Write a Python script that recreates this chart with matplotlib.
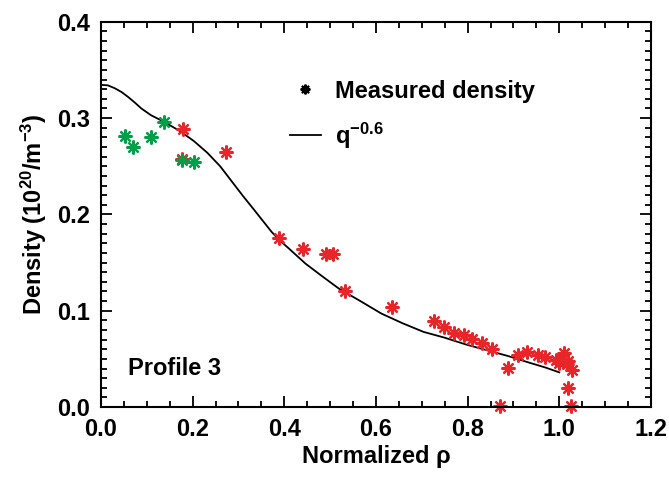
import matplotlib
matplotlib.use("Agg")
import matplotlib.pyplot as plt
from matplotlib.lines import Line2D
from matplotlib.ticker import MultipleLocator, FormatStrFormatter

# -----------------------------
# Dados
# -----------------------------
green_rho = [0.052, 0.070, 0.109, 0.138, 0.176, 0.203]
green_n = [0.281, 0.270, 0.280, 0.296, 0.257, 0.254]

red_rho = [0.178, 0.176, 0.272, 0.388, 0.441, 0.492, 0.506, 0.533, 0.635,
           0.726, 0.748, 0.770, 0.792, 0.810, 0.831, 0.853, 0.871, 0.889,
           0.909, 0.929, 0.953, 0.969, 0.992, 1.000, 1.005, 1.011, 1.016,
           1.020, 1.028, 1.019, 1.025]
red_n = [0.289, 0.258, 0.265, 0.175, 0.164, 0.159, 0.159, 0.121, 0.104,
         0.089, 0.083, 0.077, 0.075, 0.071, 0.066, 0.060, 0.001, 0.041,
         0.054, 0.057, 0.054, 0.052, 0.049, 0.046, 0.050, 0.056, 0.045,
         0.048, 0.038, 0.020, 0.001]

curve_rho = [0.0, 0.015, 0.030, 0.045, 0.059, 0.074, 0.088, 0.109, 0.138,
             0.174, 0.203, 0.232, 0.260, 0.289, 0.310, 0.332, 0.352, 0.372,
             0.390, 0.409, 0.446, 0.482, 0.519, 0.566, 0.612, 0.658, 0.704,
             0.750, 0.796, 0.842, 0.888, 0.935, 0.970, 1.0]
curve_n = [0.3345, 0.334, 0.331, 0.327, 0.322, 0.316, 0.310, 0.303, 0.296,
           0.286, 0.276, 0.264, 0.250, 0.232, 0.219, 0.206, 0.194, 0.182,
           0.173, 0.165, 0.149, 0.136, 0.123, 0.110, 0.097, 0.087, 0.078,
           0.072, 0.065, 0.059, 0.053, 0.046, 0.041, 0.036]

plt.rcParams["font.family"] = ["Liberation Sans Narrow", "Liberation Sans", "DejaVu Sans"]
plt.rcParams["font.weight"] = "bold"
plt.rcParams["axes.labelweight"] = "bold"
plt.rcParams["mathtext.default"] = "regular"

RED = "#e8262a"
GREEN = "#00a04a"
star = (8, 2, 0)

fig = plt.figure(figsize=(6.69, 4.84), dpi=100)
ax = fig.add_axes([0.151, 0.159, 0.822, 0.796])

ax.plot(curve_rho, curve_n, color="black", lw=1.3)
ax.plot(red_rho, red_n, ls="none", marker=star, ms=10, mew=1.6, color=RED, clip_on=False)
ax.plot(green_rho, green_n, ls="none", marker=star, ms=10, mew=1.6, color=GREEN, clip_on=False)

ax.set_xlim(0, 1.2)
ax.set_ylim(0, 0.4)
ax.xaxis.set_major_locator(MultipleLocator(0.2))
ax.xaxis.set_minor_locator(MultipleLocator(0.05))
ax.yaxis.set_major_locator(MultipleLocator(0.1))
ax.yaxis.set_minor_locator(MultipleLocator(0.01))
ax.xaxis.set_major_formatter(FormatStrFormatter("%.1f"))
ax.yaxis.set_major_formatter(FormatStrFormatter("%.1f"))
ax.tick_params(which="both", direction="in", top=True, right=True, width=1.3)
ax.tick_params(which="major", length=8, labelsize=17, pad=8)
ax.tick_params(which="minor", length=4)
for s in ax.spines.values():
    s.set_linewidth(1.5)

ax.set_xlabel("Normalized ρ", fontsize=17, labelpad=3)
ax.set_ylabel("Density (10$^{20}$/m$^{-3}$)", fontsize=17, labelpad=6)

ax.text(0.058, 0.033, "Profile 3", fontsize=17)

handles = [
    Line2D([], [], ls="none", marker=star, ms=7, mew=1.5, color="black"),
    Line2D([], [], color="black", lw=1.3),
]
ax.legend(handles, ["Measured density", "q$^{-0.6}$"], loc="upper left",
          bbox_to_anchor=(0.305, 0.905), frameon=False, fontsize=17,
          handlelength=1.3, handletextpad=0.6, labelspacing=0.75)

fig.savefig("out.png", dpi=100)
